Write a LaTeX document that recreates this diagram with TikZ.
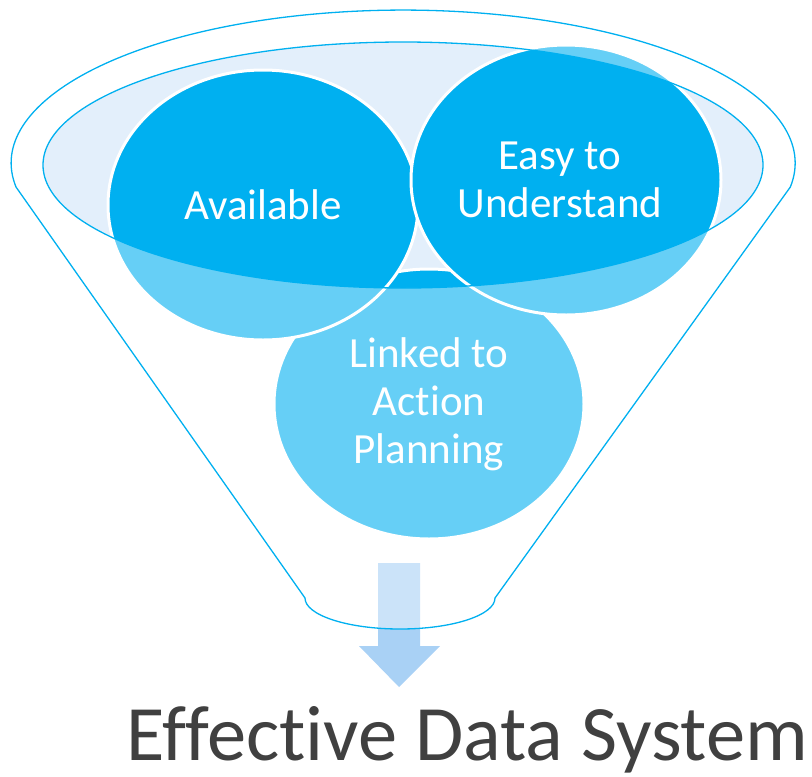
\documentclass[tikz,border=0pt]{standalone}
\usepackage{fontspec}
\setmainfont{Carlito}[Ligatures=NoCommon]
\usetikzlibrary{shapes.geometric}
\definecolor{dkblue}{HTML}{00B0F0}
\definecolor{mouth}{HTML}{E3EFFB}
\definecolor{arrowblue}{HTML}{A9D1F5}
\definecolor{titlegray}{HTML}{404040}
\tikzset{
  bubble/.style={ellipse, fill=dkblue, draw=white, line width=3pt, inner sep=0pt,
    minimum width=310pt, minimum height=270pt, text=white, align=center,
    font=\fontsize{43}{48}\selectfont},
  rim/.style={draw=dkblue, line width=1.3pt},
}
\begin{document}
\begin{tikzpicture}[x=1pt,y=-1pt]
\useasboundingbox (0,0) rectangle (812,777);
% funnel mouth fill
\fill[mouth] (403,165) ellipse[x radius=360, y radius=123];
% arrow
\fill[arrowblue] (378,563) -- (420,563) -- (420,646) -- (440,646) -- (399,687)
  -- (359,646) -- (378,646) -- cycle;
% bubbles
\node[bubble] (linked) at (429,404) {Linked to\\Action\\Planning};
\node[bubble] (avail) at (263,205) {Available};
\node[bubble] (easy) at (566,180) {Easy to\hspace*{12pt}\\Understand\hspace*{12pt}};
% translucent front face of funnel
\fill[white, opacity=0.4, even odd rule]
  (16,187) arc[start angle=171, end angle=369, x radius=392, y radius=153]
  -- (495,598) arc[start angle=0, end angle=180, x radius=95, y radius=31]
  -- cycle
  (403,165) ellipse[x radius=360, y radius=123];
% outlines
\draw[rim] (16,187) arc[start angle=171, end angle=369, x radius=392, y radius=153]
  -- (495,598) arc[start angle=0, end angle=180, x radius=95, y radius=31]
  -- cycle;
\draw[rim] (403,165) ellipse[x radius=360, y radius=123];
% title
\node[anchor=base west, inner sep=0pt, text=titlegray, font=\fontsize{78.5}{90}\selectfont]
  (title) at (126,760) {Effective Data System};
\end{tikzpicture}
\end{document}
